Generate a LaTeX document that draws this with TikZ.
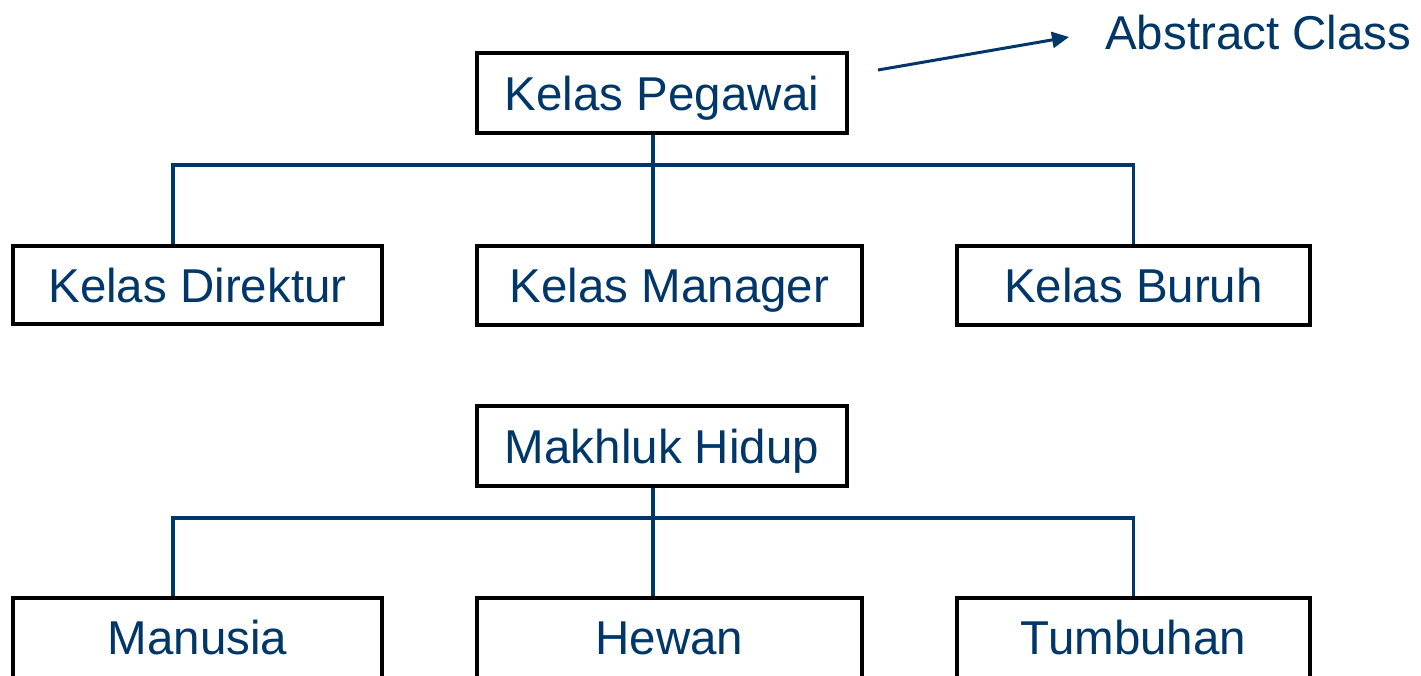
\documentclass[tikz,border=0pt]{standalone}
\usepackage{fontspec}
\setmainfont{Liberation Sans}
\usepackage{xcolor}
\usepackage{tikz}
\usetikzlibrary{arrows.meta, positioning}
\definecolor{biru}{RGB}{0,54,104}
\tikzset{
    kelas/.style={draw=black, line width=3.2pt, minimum height=80pt, inner sep=0pt,
        text height=34pt, text depth=0pt, text=biru, font=\fontsize{47.5}{57}\selectfont},
    garis/.style={draw=biru, line width=3.2pt},
    panah/.style={draw=biru, line width=3pt, -{Triangle[length=17pt, width=16pt]}}
}

\begin{document}
\begin{tikzpicture}[x=1pt, y=-1pt]
    \useasboundingbox (0,0) rectangle (1421,675);
    % pohon pertama
    \node[kelas, minimum width=370pt] (pegawai) at (662,93) {Kelas Pegawai};
    \node[kelas, minimum width=369pt, minimum height=78pt] (direktur) at (197.5,285) {Kelas Direktur};
    \node[kelas, minimum width=385pt, minimum height=79pt] (manager) at (669.5,285.5) {Kelas Manager};
    \node[kelas, minimum width=353pt, minimum height=79pt] (buruh) at (1133.5,285.5) {Kelas Buruh};
    \coordinate (bus1) at (662,165);
    \draw[garis] ([xshift=-9pt]pegawai.south) -- ([xshift=-16.5pt]manager.north);
    \draw[garis] ([xshift=-24.5pt]direktur.north) |- (bus1) -| (buruh.north);
    % keterangan
    \node[text=biru, font=\fontsize{47.5}{57}\selectfont, inner sep=0pt,
        text height=34pt, text depth=0pt, anchor=west] (abstrak) at (1105,32) {Abstract Class};
    \coordinate (ekor) at (878,70);
    \draw[panah] (ekor) -- ([xshift=-36pt, yshift=-5pt]abstrak.west);
    % pohon kedua
    \node[kelas, minimum width=370pt] (makhluk) at (662,446) {Makhluk Hidup};
    \node[kelas, minimum width=369pt, minimum height=84pt, text depth=6pt] (manusia) at (197.5,640) {Manusia};
    \node[kelas, minimum width=385pt, minimum height=84pt, text depth=6pt] (hewan) at (669.5,640) {Hewan};
    \node[kelas, minimum width=353pt, minimum height=84pt, text depth=6pt] (tumbuhan) at (1133.5,640) {Tumbuhan};
    \coordinate (bus2) at (662,518);
    \draw[garis] ([xshift=-9pt]makhluk.south) -- ([xshift=-16.5pt]hewan.north);
    \draw[garis] ([xshift=-24.5pt]manusia.north) |- (bus2) -| (tumbuhan.north);
\end{tikzpicture}
\end{document}
